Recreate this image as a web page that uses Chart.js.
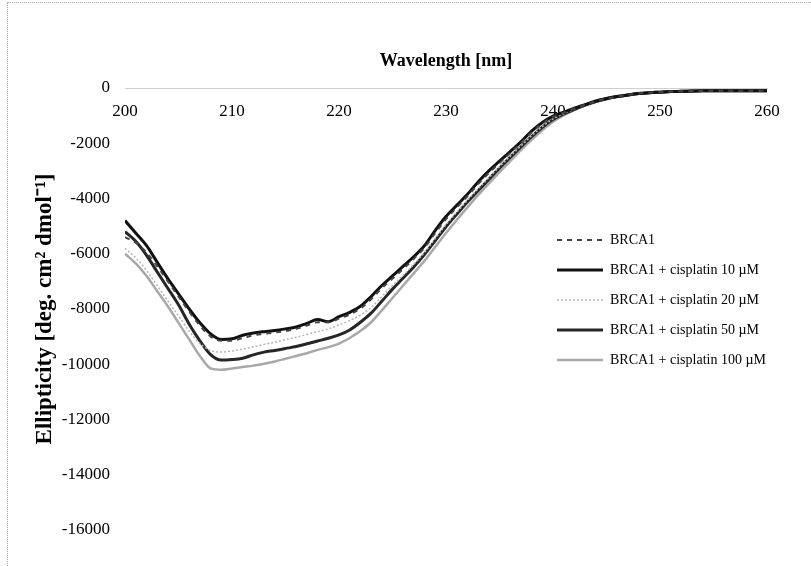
<!DOCTYPE html>
<html>
<head>
<meta charset="utf-8">
<script src="https://cdn.jsdelivr.net/npm/chart.js@4"></script>
<style>
    body { margin: 0; background: #fff; }
    #caixa { position: relative; width: 811px; height: 566px; }
    #moldura { position: absolute; left: 7px; top: 2px; right: 0; bottom: 0; border-left: 1px dotted #aaa; border-top: 1px dotted #aaa; pointer-events: none; }
</style>
</head>
<body>
<div id="caixa">
    <canvas id="graficoCD"></canvas>
    <div id="moldura"></div>
</div>
<script>
let comprimento = [200, 201, 202, 203, 204, 205, 206, 207, 208, 209, 210, 211, 212, 213, 214, 215, 216, 217, 218, 219, 220,
    221, 222, 223, 224, 225, 226, 227, 228, 229, 230, 231, 232, 233, 234, 235, 236, 237, 238, 239, 240,
    241, 242, 243, 244, 245, 246, 247, 248, 249, 250, 251, 252, 253, 254, 255, 256, 257, 258, 259, 260]

let brca1 = [-5400, -5600, -5950, -6450, -7000, -7550, -8100, -8600, -9000, -9150, -9150, -9050, -8950, -8900, -8850, -8800, -8720, -8600, -8480, -8480, -8350,
    -8200, -7980, -7650, -7250, -6900, -6550, -6180, -5780, -5250, -4750, -4330, -3920, -3480, -3080, -2720, -2350, -1990, -1600, -1290, -1050,
    -890, -740, -610, -480, -390, -310, -250, -200, -170, -150, -130, -120, -110, -100, -100, -100, -100, -100, -100, -100]

let cis10 = [-4800, -5250, -5700, -6300, -6900, -7450, -8000, -8500, -8900, -9100, -9080, -8950, -8870, -8820, -8780, -8720, -8650, -8520, -8380, -8460, -8280,
    -8120, -7900, -7550, -7150, -6800, -6450, -6100, -5700, -5150, -4650, -4250, -3850, -3400, -3000, -2650, -2300, -1950, -1560, -1250, -1020,
    -870, -730, -600, -470, -380, -310, -250, -200, -170, -150, -130, -120, -110, -100, -100, -100, -100, -100, -100, -100]

let cis20 = [-5800, -6150, -6600, -7150, -7700, -8250, -8800, -9250, -9500, -9560, -9520, -9450, -9370, -9280, -9200, -9110, -9020, -8920, -8820, -8720, -8580,
    -8420, -8220, -7950, -7550, -7150, -6780, -6380, -5950, -5450, -4950, -4500, -4070, -3650, -3250, -2850, -2470, -2100, -1730, -1400, -1120,
    -930, -770, -620, -490, -390, -310, -250, -200, -170, -150, -130, -120, -110, -100, -100, -100, -100, -100, -100, -100]

let cis50 = [-5200, -5550, -6050, -6650, -7250, -7850, -8550, -9150, -9650, -9850, -9830, -9780, -9660, -9560, -9500, -9430, -9360, -9260, -9160, -9060, -8940,
    -8760, -8480, -8150, -7720, -7280, -6880, -6470, -6020, -5520, -5020, -4570, -4130, -3720, -3310, -2900, -2510, -2130, -1760, -1420, -1140,
    -940, -770, -620, -490, -390, -310, -250, -200, -170, -150, -130, -120, -110, -100, -100, -100, -100, -100, -100, -100]

let cis100 = [-6000, -6350, -6800, -7350, -7900, -8500, -9100, -9700, -10150, -10200, -10150, -10100, -10050, -9980, -9900, -9800, -9700, -9600, -9480, -9380, -9250,
    -9050, -8800, -8480, -8050, -7600, -7150, -6700, -6250, -5750, -5250, -4780, -4320, -3880, -3460, -3050, -2650, -2250, -1880, -1530, -1220,
    -990, -800, -640, -500, -400, -320, -260, -210, -175, -150, -130, -120, -110, -100, -100, -100, -100, -100, -100, -100]

let nomes = ['BRCA1', 'BRCA1 + cisplatin 10 µM', 'BRCA1 + cisplatin 20 µM', 'BRCA1 + cisplatin 50 µM', 'BRCA1 + cisplatin 100 µM']
let ticksY = [0, -2000, -4000, -6000, -8000, -10000, -12000, -14000, -16000]

function pontos(valores) {
    return comprimento.map((x, i) => ({ x: x, y: valores[i] }))
}

let fonte = 'Liberation Serif, Times New Roman, serif'

// legenda fica dentro da area do grafico, do lado direito
let posicaoLegenda = {
    id: 'posicaoLegenda',
    afterLayout(chart) {
        let leg = chart.legend
        leg.left = 541
        leg.top = 217
        leg.right = 811
        leg.bottom = 400
        leg.width = leg.right - leg.left
        leg.height = leg.bottom - leg.top
    }
}

let ctx = document.getElementById('graficoCD').getContext('2d')
new Chart(ctx, {
    type: 'line',
    data: {
        datasets: [
            { label: nomes[0], data: pontos(brca1), borderColor: '#444', backgroundColor: '#444', borderWidth: 2, borderDash: [5, 5] },
            { label: nomes[1], data: pontos(cis10), borderColor: '#111', backgroundColor: '#111', borderWidth: 3 },
            { label: nomes[2], data: pontos(cis20), borderColor: '#b5b5b5', backgroundColor: '#b5b5b5', borderWidth: 1.5, borderDash: [2, 2] },
            { label: nomes[3], data: pontos(cis50), borderColor: '#262626', backgroundColor: '#262626', borderWidth: 3 },
            { label: nomes[4], data: pontos(cis100), borderColor: '#a8a8a8', backgroundColor: '#a8a8a8', borderWidth: 2.5 }
        ]
    },
    options: {
        responsive: true,
        maintainAspectRatio: false,
        animation: false,
        layout: { padding: { top: 0, left: 0, right: 44, bottom: 36 } },
        elements: {
            point: { radius: 0 },
            line: { tension: 0.4, cubicInterpolationMode: 'monotone' }
        },
        scales: {
            x: {
                type: 'linear',
                position: { y: 0 },
                min: 200,
                max: 260,
                ticks: { stepSize: 10, padding: 13, color: '#000', font: { family: fonte, size: 17 } },
                grid: { display: false, drawTicks: false },
                border: { color: '#cfcfcf', dash: [2, 6] }
            },
            xTopo: {
                type: 'linear',
                position: 'top',
                min: 200,
                max: 260,
                ticks: { display: false },
                grid: { display: false, drawTicks: false },
                border: { display: false },
                title: {
                    display: true,
                    text: 'Wavelength [nm]',
                    color: '#000',
                    font: { family: fonte, size: 18, weight: 'bold' },
                    padding: { top: 51, bottom: 0 }
                },
                afterFit(scale) { scale.height = 88 }
            },
            y: {
                min: -16000,
                max: 0,
                afterBuildTicks(scale) { scale.ticks = ticksY.map(v => ({ value: v })) },
                ticks: { padding: 15, color: '#000', font: { family: fonte, size: 17 }, callback: v => String(v) },
                grid: { display: false, drawTicks: false },
                border: { display: false },
                title: {
                    display: true,
                    text: 'Ellipticity [deg. cm² dmol⁻¹]',
                    color: '#000',
                    font: { family: fonte, size: 23, weight: 'bold' },
                    padding: { top: 31, bottom: 0 }
                },
                afterFit(scale) { scale.width = 125 }
            }
        },
        plugins: {
            legend: {
                position: 'chartArea',
                align: 'start',
                labels: {
                    usePointStyle: true,
                    pointStyle: 'line',
                    pointStyleWidth: 46,
                    padding: 16,
                    color: '#000',
                    font: { family: fonte, size: 14 },
                    generateLabels(chart) {
                        let itens = Chart.defaults.plugins.legend.labels.generateLabels(chart)
                        itens.forEach((item, i) => {
                            let ds = chart.data.datasets[i]
                            item.lineDash = ds.borderDash || []
                            item.lineWidth = ds.borderWidth
                        })
                        return itens
                    }
                }
            },
            tooltip: { enabled: false }
        }
    },
    plugins: [posicaoLegenda]
})
</script>
</body>
</html>
